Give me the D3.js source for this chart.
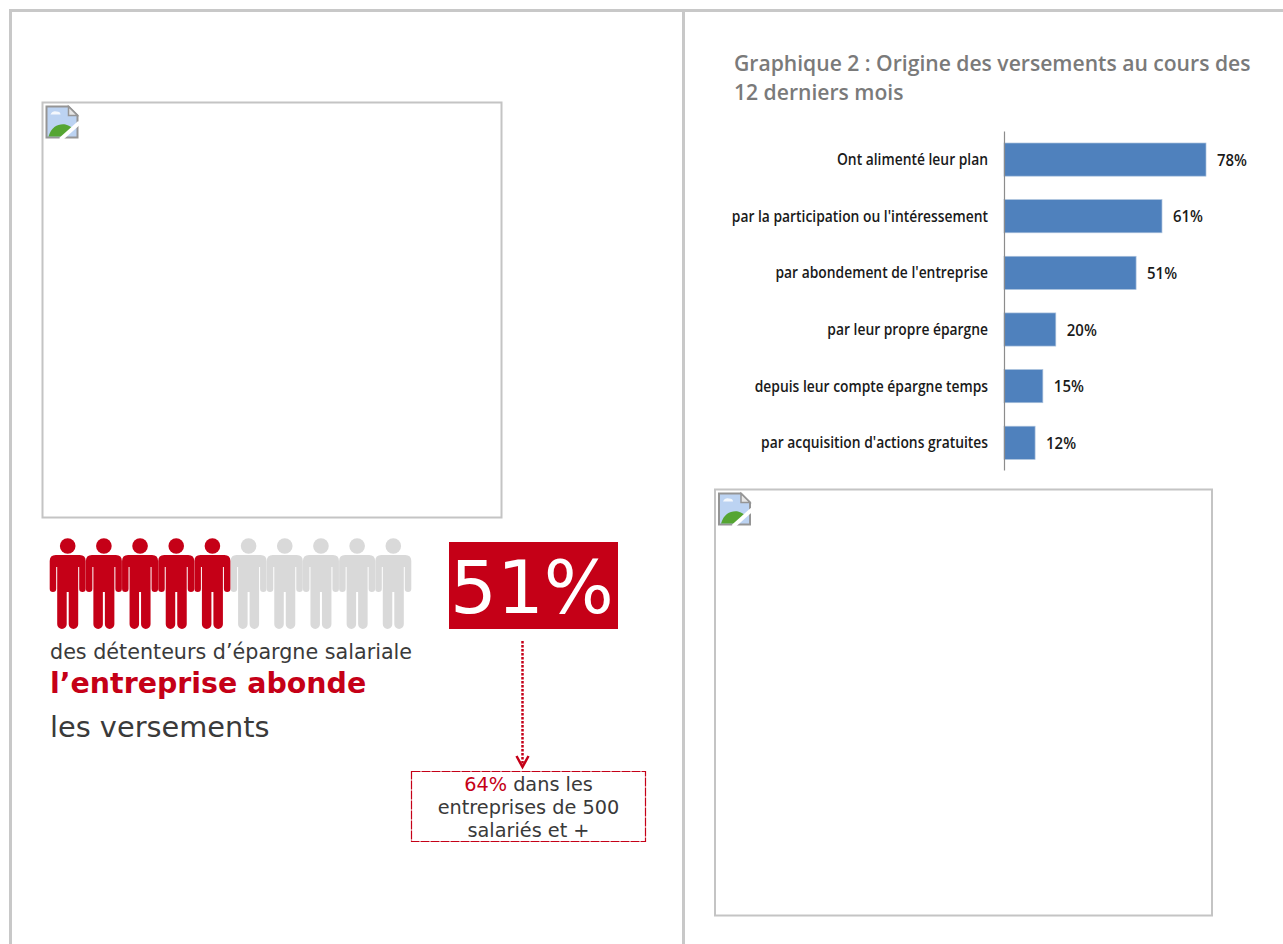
<!DOCTYPE html>
<html lang="fr">
<head>
<meta charset="utf-8">
<title>Épargne salariale</title>
<script src="https://cdn.jsdelivr.net/npm/d3@7/dist/d3.min.js"></script>
<style>
  html, body { margin: 0; padding: 0; background: #fff; }
  svg { display: block; }
</style>
</head>
<body>
<svg id="page" width="1283" height="944"></svg>
<script>
// Chart data
const originLabels = [
  "Ont alimenté leur plan",
  "par la participation ou l'intéressement",
  "par abondement de l'entreprise",
  "par leur propre épargne",
  "depuis leur compte épargne temps",
  "par acquisition d'actions gratuites"
];
const originValues = [78, 61, 51, 20, 15, 12];
const titleLines = ["Graphique 2 : Origine des versements au cours des", "12 derniers mois"];

const peopleTotal = 10;
const peopleHighlighted = 5;
const abondementShare = 51;
const largeFirmShare = 64;

const RED = "#c50017";
const GREY = "#d9d9d9";
const BAR = "#4f81bd";
const FRAME = "#c8c8c8";
const VERDANA = "'DejaVu Sans', Verdana, sans-serif";
const CONDENSED = "'Open Sans', sans-serif";
const LABEL_SQUEEZE = 0.84;
const VALUE_SQUEEZE = 0.88;
const TITLE_SQUEEZE = 0.96;

const svg = d3.select("#page");

// Page panels
svg.append("path")
  .attr("d", "M10.5 944V10.5H1283M683.5 10.5V944")
  .attr("fill", "none").attr("stroke", FRAME).attr("stroke-width", 3);

// Empty image frames with their missing-image icon
const imageFrames = [
  { x: 42.5, y: 102.5, w: 459, h: 415 },
  { x: 715, y: 489.5, w: 497, h: 426 }
];
imageFrames.forEach(f => {
  const g = svg.append("g").attr("transform", `translate(${f.x},${f.y})`);
  g.append("rect").attr("width", f.w).attr("height", f.h)
    .attr("fill", "#fff").attr("stroke", "#c4c4c4").attr("stroke-width", 2);
  const icon = g.append("g").attr("transform", "translate(3,3)");
  icon.append("path").attr("d", "M1 1H23L32 10V32H1Z").attr("fill", "#bcd3f2").attr("stroke", "#959595").attr("stroke-width", 2);
  icon.append("path").attr("d", "M5 9Q7 5 11 6Q15 6 15 9Z").attr("fill", "#f4f8fd");
  icon.append("path").attr("d", "M3 31C6 21 13 18 20 19C24 20 27 22 28 24L20 31Z").attr("fill", "#55a532");
  icon.append("path").attr("d", "M15 34L34 17").attr("stroke", "#fff").attr("stroke-width", 4);
  icon.append("path").attr("d", "M23 1V10H32Z").attr("fill", "#e6e6e6").attr("stroke", "#959595").attr("stroke-width", 1.5);
});

// Row of pictogram figures, one for every ten holders
const figureX = d3.scalePoint()
  .domain(d3.range(peopleTotal))
  .range([67.7, 393.3]);
const figureBody = "M-12 9H12Q18 9 18 15V42.700A3.250 3.250 0 0 1 11.500 42.700V21H10.500V78.250A4.750 4.750 0 0 1 1 78.250V46H-1V78.250A4.750 4.750 0 0 1 -10.500 78.250V21H-11.500V42.700A3.250 3.250 0 0 1 -18 42.700V15Q-18 9 -12 9Z";
const figures = svg.append("g").selectAll("g")
  .data(d3.range(peopleTotal))
  .join("g")
  .attr("transform", d => `translate(${figureX(d)},546)`)
  .attr("fill", d => d < peopleHighlighted ? RED : GREY);
figures.append("circle").attr("r", 7.800);
figures.append("path").attr("d", figureBody);
// Highlighted figures stay on top of the grey ones
figures.filter(d => d < peopleHighlighted).raise();

// Left-hand caption
const caption = svg.append("g").attr("font-family", VERDANA);
caption.append("text").attr("x", 50).attr("y", 659)
  .attr("font-size", 20.700).attr("fill", "#3a3a3a").text("des détenteurs d’épargne salariale");
caption.append("text").attr("x", 50).attr("y", 693)
  .attr("font-size", 28.450).attr("font-weight", "bold").attr("fill", RED).text("l’entreprise abonde");
caption.append("text").attr("x", 50).attr("y", 737)
  .attr("font-size", 28.800).attr("fill", "#3a3a3a").text("les versements");

// Headline figure
svg.append("rect").attr("x", 449).attr("y", 542).attr("width", 169).attr("height", 87).attr("fill", RED);
svg.append("text").attr("x", 532).attr("y", 613).attr("text-anchor", "middle")
  .attr("font-family", VERDANA).attr("font-size", 73.700).attr("fill", "#fff")
  .text(`${abondementShare}%`);

// Dotted arrow to the note
svg.append("path").attr("d", "M522.500 641V767")
  .attr("stroke", RED).attr("stroke-width", 2.500).attr("stroke-dasharray", "2.500 1.500").attr("fill", "none");
svg.append("path").attr("d", "M516.500 756L522.500 767L528.500 756")
  .attr("stroke", RED).attr("stroke-width", 2.500).attr("fill", "none");

// Note box
svg.append("rect").attr("x", 411.500).attr("y", 771.500).attr("width", 234).attr("height", 70)
  .attr("fill", "none").attr("stroke", RED).attr("stroke-width", 1.200).attr("stroke-dasharray", "9 1");
const note = svg.append("g").attr("font-family", VERDANA).attr("font-size", 19.300).attr("fill", "#3a3a3a").attr("text-anchor", "middle");
const firstLine = note.append("text").attr("x", 528.500).attr("y", 790.500);
firstLine.append("tspan").attr("fill", RED).text(`${largeFirmShare}%`);
firstLine.append("tspan").text(" dans les");
note.append("text").attr("x", 528.500).attr("y", 813.500).text("entreprises de 500");
note.append("text").attr("x", 528.500).attr("y", 837).text("salariés et +");

// Bar chart title
svg.append("g").selectAll("text").data(titleLines).join("text")
  .attr("transform", (d, i) => `translate(734,${71 + i * 29}) scale(${TITLE_SQUEEZE},1)`)
  .attr("font-family", CONDENSED).attr("font-weight", 600)
  .attr("font-size", 22).attr("fill", "#7a7a7a")
  .text(d => d);

// Horizontal bar chart
const x = d3.scaleLinear().domain([0, 78]).range([1004, 1206]);
const y = d3.scaleBand().domain(originLabels).range([131, 470])
  .paddingInner(0.415).paddingOuter(0.2).align(0.53);

svg.append("g").selectAll("rect").data(originLabels).join("rect")
  .attr("x", x(0)).attr("y", d => y(d))
  .attr("width", (d, i) => x(originValues[i]) - x(0))
  .attr("height", y.bandwidth())
  .attr("fill", BAR).attr("stroke", "#a9c0dc").attr("stroke-width", 0.700);

const axis = svg.append("g").attr("transform", `translate(${x(0)},0)`)
  .call(d3.axisLeft(y).tickSize(0).tickPadding(0));
axis.select(".domain").attr("stroke", "#8c8c8c").attr("stroke-width", 1.200);
axis.selectAll(".tick text")
  .attr("x", null).attr("dy", null)
  .attr("transform", `translate(-16,5.500) scale(${LABEL_SQUEEZE},1)`)
  .attr("font-family", CONDENSED).attr("font-size", 16.500).attr("font-weight", 600).attr("fill", "#1a1a1a");

svg.append("g").selectAll("text").data(originLabels).join("text")
  .attr("transform", (d, i) => `translate(${x(originValues[i]) + 11},${y(d) + y.bandwidth() / 2 + 6}) scale(${VALUE_SQUEEZE},1)`)
  .attr("font-family", CONDENSED).attr("font-size", 17).attr("font-weight", 600).attr("fill", "#1a1a1a")
  .text((d, i) => `${originValues[i]}%`);
</script>
</body>
</html>
